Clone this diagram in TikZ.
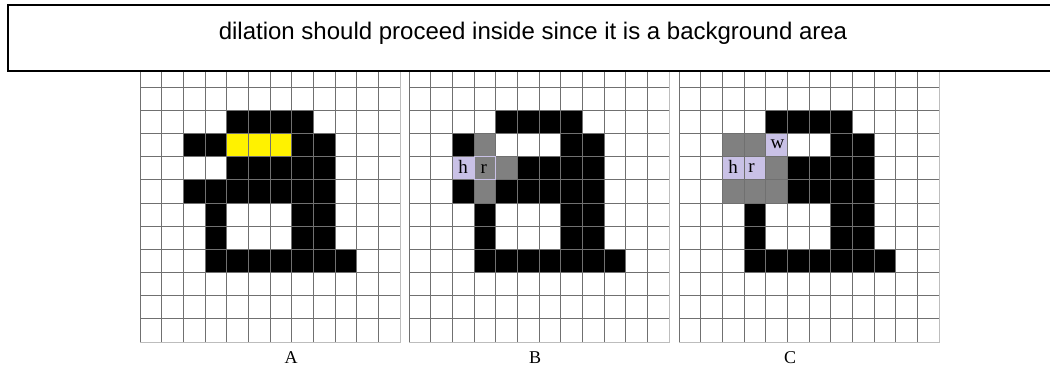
\documentclass[tikz,border=0pt]{standalone}
\usepackage{fontspec}
\setmainfont{Liberation Serif}
\newfontfamily\bannerfont{Liberation Sans}
\usetikzlibrary{positioning}
\definecolor{hilite}{HTML}{FFF200}
\definecolor{pixgray}{HTML}{808080}
\definecolor{lavender}{HTML}{C9C1E6}
\definecolor{gridgray}{HTML}{707070}
\definecolor{edgegray}{HTML}{BDBDBD}

\tikzset{
  pixgrid/.style={x=21.67pt, y=-23.17pt},
  gridline/.style={draw=gridgray, line width=1pt},
  markcell/.style={font=\fontsize{19}{19}\selectfont, inner sep=0pt},
  panellabel/.style={font=\fontsize{18}{20}\selectfont, anchor=base},
}

% black pixels of the letter shared by the three panels
\newcommand{\letterbody}{4/2,5/2,6/2,7/2,7/3,8/3,5/4,6/4,7/4,8/4,5/5,6/5,7/5,8/5,
  3/6,7/6,8/6,3/7,7/7,8/7,3/8,4/8,5/8,6/8,7/8,8/8,9/8}

\begin{document}
\begin{tikzpicture}[x=1pt, y=-1pt]
\clip (0,0) rectangle (1050,368);
\fill[white] (0,0) rectangle (1050,368);

% letter body in every panel
\foreach \xo in {140,409,679}{
  \begin{scope}[shift={(\xo pt,-64pt)}, pixgrid]
    \foreach \c/\r in \letterbody
      \fill[black] (\c,\r) rectangle ++(1,1);
  \end{scope}
}

% panel A
\begin{scope}[shift={(140pt,-64pt)}, pixgrid]
  \foreach \c/\r in {2/3,3/3,4/4,2/5,3/5,4/5}
    \fill[black] (\c,\r) rectangle ++(1,1);
  \fill[hilite] (4,3) rectangle (7,4);
\end{scope}

% panel B
\begin{scope}[shift={(409pt,-64pt)}, pixgrid]
  \foreach \c/\r in {2/3,2/5,4/5}
    \fill[black] (\c,\r) rectangle ++(1,1);
  \foreach \c/\r in {3/3,3/4,4/4,3/5}
    \fill[pixgray] (\c,\r) rectangle ++(1,1);
  \fill[lavender] (2,4) rectangle ++(1,1);
\end{scope}

% panel C
\begin{scope}[shift={(679pt,-64pt)}, pixgrid]
  \foreach \c/\r in {2/3,3/3,4/4,2/5,3/5,4/5}
    \fill[pixgray] (\c,\r) rectangle ++(1,1);
  \foreach \c/\r in {4/3,2/4,3/4}
    \fill[lavender] (\c,\r) rectangle ++(1,1);
\end{scope}

% grids
\foreach \xo in {140,409,679}{
  \begin{scope}[shift={(\xo pt,-64pt)}, pixgrid]
    \foreach \i in {0,...,11}{
      \draw[gridline] (\i,0) -- (\i,12);
      \draw[gridline] (0,\i) -- (12,\i);
    }
    \draw[edgegray, line width=1pt] (12,0) -- (12,12) -- (0,12);
  \end{scope}
}

% marked pixels
\begin{scope}[shift={(409pt,-64pt)}, pixgrid]
  \draw[lavender, line width=1pt] (3,4) rectangle ++(1,1);
  \node[markcell] (hB) at (2.5,4.45) {h};
  \node[markcell] (rB) at (3.45,4.55) {r};
\end{scope}
\begin{scope}[shift={(679pt,-64pt)}, pixgrid]
  \node[markcell] (wC) at (4.55,3.45) {w};
  \node[markcell] (hC) at (2.5,4.45) {h};
  \node[markcell] (rC) at (3.35,4.5) {r};
\end{scope}

% banner
\node[draw, line width=2pt, fill=white, anchor=north west,
  minimum width=1062pt, minimum height=66pt] (banner) at (7,4) {};
\node[font=\bannerfont\fontsize{24}{26}\selectfont, anchor=base] (bannertext)
  at (533,39) {dilation should proceed inside since it is a background area};

% panel labels
\node[panellabel] (labA) at (291,363) {A};
\node[panellabel] (labB) at (535,363) {B};
\node[panellabel] (labC) at (790,363) {C};
\end{tikzpicture}
\end{document}
